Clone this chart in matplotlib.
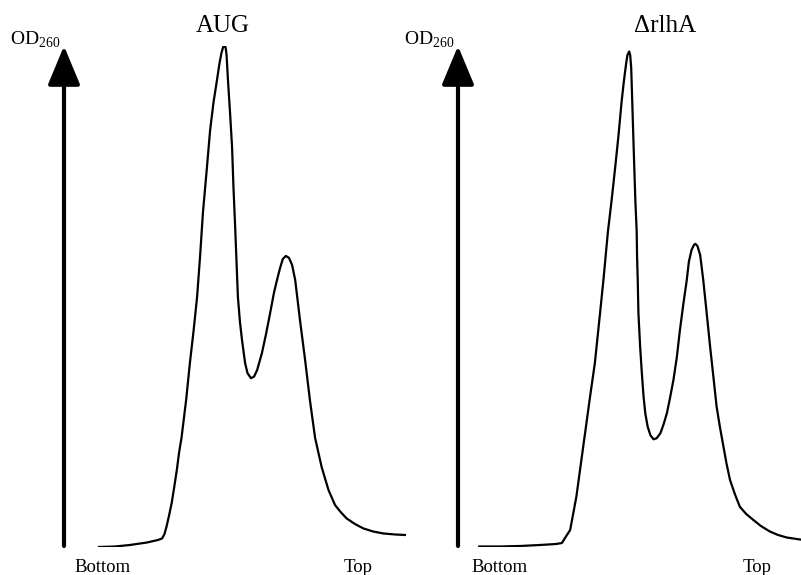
import matplotlib
matplotlib.use("Agg")
import matplotlib.pyplot as plt

plt.rcParams['font.family'] = ['Liberation Serif', 'DejaVu Serif']
plt.rcParams['mathtext.fontset'] = 'custom'
plt.rcParams['mathtext.rm'] = 'Liberation Serif'

# gradient position (0 = arrow, 100 = right edge) and OD260 (relative)
aug_x = [10.2, 14.9, 19.2, 24.2, 27.4, 28.6, 29.3, 29.9, 30.6, 31.4, 32.1, 32.9, 33.5, 34.3, 35.6,
         36.7, 37.8, 38.8, 39.7, 40.5, 41.6, 42.6, 43.6, 44.6, 45.3, 45.9, 46.4, 46.7, 47.1, 47.4,
         47.8, 48.4, 49.0, 49.4, 49.9, 50.3, 50.7, 51.3, 51.9, 52.8, 53.5, 54.5, 55.4, 56.3, 57.7,
         58.9, 60.1, 61.2, 62.1, 63.0, 63.8, 64.7, 65.6, 66.5, 67.4, 68.8, 70.3, 71.7, 73.2, 75.1,
         77.1, 79.0, 80.5, 82.4, 84.8, 87.3, 90.1, 93.1, 96.5, 99.4]
aug_y = [0.0, 0.1, 0.4, 0.9, 1.4, 1.7, 2.6, 4.1, 6.2, 8.8, 11.8, 15.4, 18.6, 22.0, 29.3,
         36.7, 43.3, 49.9, 58.3, 66.7, 75.2, 83.2, 88.8, 93.2, 96.4, 98.6, 99.8, 100.0, 99.8, 98.2,
         93.2, 86.8, 79.8, 71.9, 63.9, 56.9, 49.9, 44.9, 41.3, 36.7, 34.7, 33.7, 34.0, 35.3, 38.7,
         42.5, 46.7, 50.7, 53.3, 55.7, 57.5, 58.1, 57.7, 56.3, 53.3, 45.3, 37.3, 29.3, 21.8, 16.0,
         11.4, 8.4, 7.1, 5.7, 4.6, 3.7, 3.1, 2.7, 2.5, 2.4]

rlha_x = [6.2, 12.2, 18.1, 23.9, 28.6, 30.3, 31.2, 32.7, 34.5, 36.5, 38.5, 39.9, 41.4, 42.4, 43.7,
          44.8, 45.8, 46.8, 47.7, 48.4, 49.0, 49.4, 49.9, 50.2, 50.5, 50.8, 51.1, 51.4, 51.7, 52.1,
          52.2, 52.4, 52.6, 53.1, 53.6, 54.1, 54.6, 55.3, 56.1, 57.0, 57.9, 59.0, 59.9, 60.9, 61.8,
          62.8, 63.8, 64.7, 65.7, 66.7, 67.3, 68.1, 68.8, 69.2, 69.8, 70.6, 71.5, 72.5, 73.5, 74.5,
          75.4, 76.4, 77.4, 78.3, 79.3, 80.8, 82.2, 84.0, 86.1, 88.3, 90.9, 93.3, 95.8, 99.7]
rlha_y = [0.1, 0.1, 0.2, 0.4, 0.6, 0.8, 1.8, 3.4, 10.0, 20.0, 30.0, 36.7, 46.6, 53.3, 62.9,
          69.3, 75.6, 82.2, 88.9, 93.2, 96.4, 98.2, 98.9, 98.2, 95.6, 88.9, 82.2, 75.6, 69.3, 62.9,
          58.1, 53.3, 46.7, 40.0, 34.7, 30.0, 26.7, 24.0, 22.3, 21.5, 21.7, 22.7, 24.4, 26.7, 29.7,
          33.3, 37.9, 43.3, 48.5, 53.3, 56.9, 59.3, 60.3, 60.5, 60.1, 58.3, 53.3, 46.7, 40.0, 33.7,
          28.0, 23.8, 20.0, 16.6, 13.4, 10.4, 8.0, 6.6, 5.4, 4.2, 3.1, 2.4, 1.9, 1.5]

titles = ["AUG", "\u0394rlhA"]
title_x = [46.4, 60.5]  # title centres are not over the middle of each panel
bottom_x = [11.1, 12.2]
top_x = [85.7, 87.2]

fig = plt.figure(figsize=(8.01, 5.75), dpi=100)
ax1 = fig.add_axes([64 / 801, 28 / 575, 343 / 801, 501 / 575])
ax2 = fig.add_axes([458 / 801, 28 / 575, 343 / 801, 501 / 575])

for i, (ax, xs, ys) in enumerate([(ax1, aug_x, aug_y), (ax2, rlha_x, rlha_y)]):
    ax.plot(xs, ys, color="black", lw=1.6, solid_joinstyle="round")
    ax.set_xlim(0, 100)
    ax.set_ylim(0, 100)
    ax.axis("off")
    # the y axis is a plain arrow
    ax.annotate("", xy=(0, 1), xytext=(0, 0.002), xycoords="axes fraction",
                arrowprops=dict(arrowstyle="-|>,head_length=1.2,head_width=0.5", mutation_scale=20,
                                lw=3, color="black", shrinkA=0, shrinkB=0))
    ax.text(-15.8, 100.2, r"OD$_{\mathrm{260}}$", fontsize=14, ha="left", va="baseline", clip_on=False)
    ax.text(title_x[i], 102.8, titles[i], fontsize=18, ha="center", va="baseline", clip_on=False)
    ax.text(bottom_x[i], -5.0, "Bottom", fontsize=13.5, ha="center", va="baseline", clip_on=False)
    ax.text(top_x[i], -5.0, "Top", fontsize=13.5, ha="center", va="baseline", clip_on=False)

fig.savefig("out.png", dpi=100)
